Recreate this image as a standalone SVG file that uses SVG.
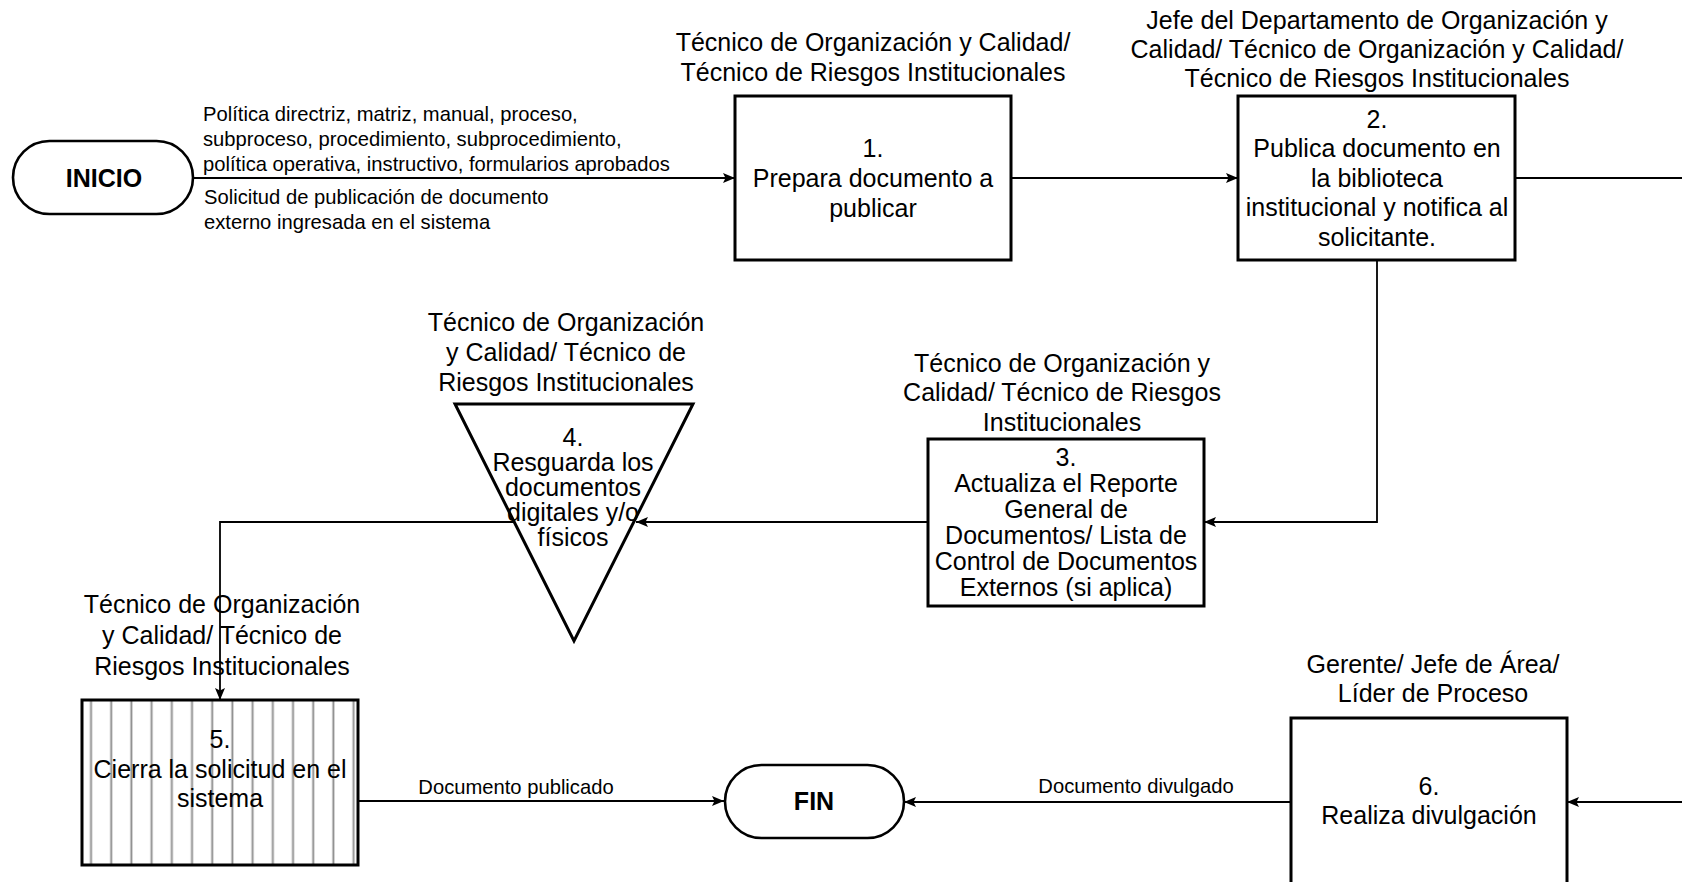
<svg xmlns="http://www.w3.org/2000/svg" width="1682" height="882" viewBox="0 0 1682 882">
<style>
text{font-family:"Liberation Sans",Arial,sans-serif;fill:#000}
.h{font-size:25px;text-anchor:middle}
.t{font-size:25px;text-anchor:middle}
.b{font-size:25px;font-weight:bold;text-anchor:middle}
.l{font-size:20.2px}
.lc{font-size:20.2px;text-anchor:middle}
.box{fill:#fff;stroke:#000;stroke-width:3}
.term{fill:#fff;stroke:#000;stroke-width:2.6}
.c{fill:none;stroke:#000;stroke-width:1.8}
.ca{fill:none;stroke:#000;stroke-width:1.8;marker-end:url(#ah)}
</style>
<defs>
<marker id="ah" markerWidth="12" markerHeight="10" refX="12" refY="5" orient="auto" markerUnits="userSpaceOnUse">
<path d="M0,0 L12,5 L0,10 L2.5,5 z" fill="#000"/>
</marker>
<pattern id="vl" patternUnits="userSpaceOnUse" x="82" y="0" width="20.2" height="10">
<rect x="7.5" y="0" width="3" height="10" fill="#cfcfcf"/>
<rect x="8.4" y="0" width="1.2" height="10" fill="#8f8f8f"/>
</pattern>
</defs>

<g id="connectors">
<path class="ca" d="M193,178 H735"/>
<path class="ca" d="M1011,178 H1238"/>
<path class="c" d="M1515,178 H1682"/>
<path class="ca" d="M1377,260 V522 H1204"/>
<path class="ca" d="M928,522 H636"/>
<path class="ca" d="M513,522 H220 V700"/>
<path class="ca" d="M358,801 H724"/>
<path class="ca" d="M1291,802 H904"/>
<path class="ca" d="M1682,802 H1567"/>
</g>

<g id="labels">
<text class="l" x="203" y="121">Política directriz, matriz, manual, proceso,</text>
<text class="l" x="203" y="146">subproceso, procedimiento, subprocedimiento,</text>
<text class="l" x="203" y="171">política operativa, instructivo, formularios aprobados</text>
<text class="l" x="204" y="204">Solicitud de publicación de documento</text>
<text class="l" x="204" y="228.5">externo ingresada en el sistema</text>
<text class="lc" x="516" y="794">Documento publicado</text>
<text class="lc" x="1136" y="793">Documento divulgado</text>
</g>

<g id="inicio">
<rect class="term" x="13" y="141" width="180" height="73" rx="36.5" ry="36.5"/>
<text class="b" x="104" y="186.5">INICIO</text>
</g>

<g id="node1">
<text class="h" x="873" y="51">Técnico de Organización y Calidad/</text>
<text class="h" x="873" y="81">Técnico de Riesgos Institucionales</text>
<rect class="box" x="735" y="96" width="276" height="164"/>
<text class="t" x="873" y="157">1.</text>
<text class="t" x="873" y="187">Prepara documento a</text>
<text class="t" x="873" y="217">publicar</text>
</g>

<g id="node2">
<text class="h" x="1377" y="28.5">Jefe del Departamento de Organización y</text>
<text class="h" x="1377" y="58">Calidad/ Técnico de Organización y Calidad/</text>
<text class="h" x="1377" y="87">Técnico de Riesgos Institucionales</text>
<rect class="box" x="1238" y="96" width="277" height="164"/>
<text class="t" x="1377" y="127.5">2.</text>
<text class="t" x="1377" y="157">Publica documento en</text>
<text class="t" x="1377" y="186.5">la biblioteca</text>
<text class="t" x="1377" y="216">institucional y notifica al</text>
<text class="t" x="1377" y="245.5">solicitante.</text>
</g>

<g id="node3">
<text class="h" x="1062" y="371.5">Técnico de Organización y</text>
<text class="h" x="1062" y="401">Calidad/ Técnico de Riesgos</text>
<text class="h" x="1062" y="430.5">Institucionales</text>
<rect class="box" x="928" y="439" width="276" height="167"/>
<text class="t" x="1066" y="466">3.</text>
<text class="t" x="1066" y="492">Actualiza el Reporte</text>
<text class="t" x="1066" y="518">General de</text>
<text class="t" x="1066" y="544">Documentos/ Lista de</text>
<text class="t" x="1066" y="570">Control de Documentos</text>
<text class="t" x="1066" y="596">Externos (si aplica)</text>
</g>

<g id="node4">
<text class="h" x="566" y="330.5">Técnico de Organización</text>
<text class="h" x="566" y="360.5">y Calidad/ Técnico de</text>
<text class="h" x="566" y="390.5">Riesgos Institucionales</text>
<polygon points="455,404 693,404 574,641" fill="none" stroke="#000" stroke-width="3" stroke-linejoin="miter"/>
<text class="t" x="573" y="445.5">4.</text>
<text class="t" x="573" y="470.5">Resguarda los</text>
<text class="t" x="573" y="495.5">documentos</text>
<text class="t" x="573" y="520.5">digitales y/o</text>
<text class="t" x="573" y="545.5">físicos</text>
</g>

<g id="node5">
<text class="h" x="222" y="613">Técnico de Organización</text>
<text class="h" x="222" y="643.5">y Calidad/ Técnico de</text>
<text class="h" x="222" y="674.5">Riesgos Institucionales</text>
<rect x="82" y="700" width="276" height="165" fill="#fff"/>
<rect x="82" y="700" width="276" height="165" fill="url(#vl)"/>
<rect x="82" y="700" width="276" height="165" fill="none" stroke="#000" stroke-width="3"/>
<text class="t" x="220" y="747.5">5.</text>
<text class="t" x="220" y="777.5">Cierra la solicitud en el</text>
<text class="t" x="220" y="806.5">sistema</text>
</g>

<g id="fin">
<rect class="term" x="725" y="765" width="179" height="73" rx="36.5" ry="36.5"/>
<text class="b" x="814" y="810">FIN</text>
</g>

<g id="node6">
<text class="h" x="1433" y="672.5">Gerente/ Jefe de Área/</text>
<text class="h" x="1433" y="701.5">Líder de Proceso</text>
<rect class="box" x="1291" y="718" width="276" height="190"/>
<text class="t" x="1429" y="794.5">6.</text>
<text class="t" x="1429" y="823.5">Realiza divulgación</text>
</g>
</svg>
